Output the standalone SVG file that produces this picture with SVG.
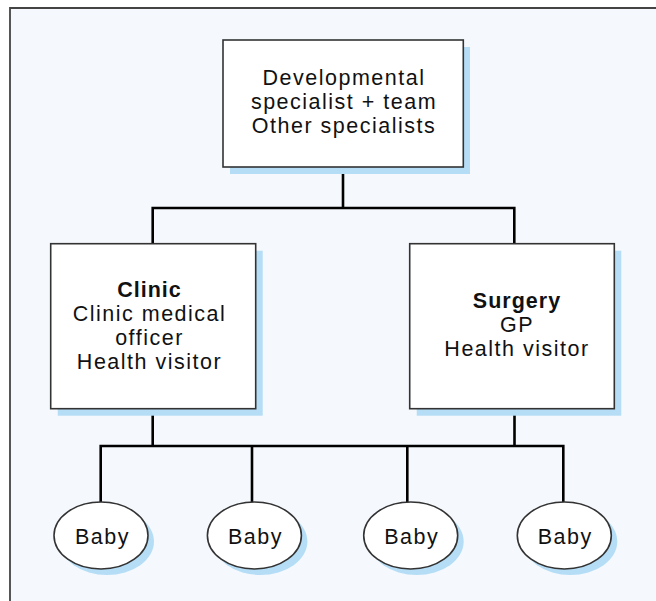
<svg xmlns="http://www.w3.org/2000/svg" width="656" height="601" viewBox="0 0 656 601">
<style>
.box{fill:#ffffff;stroke:#333333;stroke-width:1.6}
.shadow{fill:#b6ddf6}
.conn{fill:none;stroke:#000000;stroke-width:2.6}
text{font-family:"Liberation Sans",Arial,sans-serif;font-size:21.5px;fill:#111111;text-anchor:middle;letter-spacing:1.5px}
.b{font-weight:bold;letter-spacing:1px}
</style>
<rect x="0" y="0" width="656" height="601" fill="#ffffff"/>
<rect x="10" y="8" width="646" height="593" fill="#f5f9fd"/>
<path d="M10,601 V8 H656" fill="none" stroke="#444444" stroke-width="1.8"/>
<g id="connectors">
<path class="conn" d="M343,167 V208 M152.7,243.7 V208 H514.3 V243.7"/>
<path class="conn" d="M152.7,408.7 V446 M514.5,408.7 V446 M100.7,502 V446 H563.3 V502 M252,446 V502 M407.3,446 V502"/>
</g>
<g id="top">
<rect class="shadow" x="230" y="47" width="240" height="127"/>
<rect class="box" x="223" y="40" width="240.3" height="127"/>
<text x="344" y="85">Developmental</text>
<text x="344" y="109">specialist + team</text>
<text x="344" y="133">Other specialists</text>
</g>
<g id="clinic">
<rect class="shadow" x="57.7" y="250.7" width="205" height="165"/>
<rect class="box" x="50.7" y="243.7" width="205" height="165"/>
<text class="b" x="149.5" y="296.7">Clinic</text>
<text x="149.5" y="320.7">Clinic medical</text>
<text x="149.5" y="345">officer</text>
<text x="149.5" y="368.5">Health visitor</text>
</g>
<g id="surgery">
<rect class="shadow" x="416.7" y="250.7" width="204.6" height="165"/>
<rect class="box" x="409.7" y="243.7" width="204.6" height="165"/>
<text class="b" x="517" y="308.3">Surgery</text>
<text x="517" y="332">GP</text>
<text x="517" y="356">Health visitor</text>
</g>
<g id="baby1">
<ellipse class="shadow" cx="107" cy="541.5" rx="47" ry="33.5"/>
<ellipse class="box" cx="101" cy="535.5" rx="47" ry="33.5"/>
<text x="102.4" y="544">Baby</text>
</g>
<g id="baby2">
<ellipse class="shadow" cx="260.4" cy="541.5" rx="47" ry="33.5"/>
<ellipse class="box" cx="254.4" cy="535.5" rx="47" ry="33.5"/>
<text x="255.5" y="544">Baby</text>
</g>
<g id="baby3">
<ellipse class="shadow" cx="416.7" cy="541.5" rx="47" ry="33.5"/>
<ellipse class="box" cx="410.7" cy="535.5" rx="47" ry="33.5"/>
<text x="411.7" y="544">Baby</text>
</g>
<g id="baby4">
<ellipse class="shadow" cx="570.3" cy="541.5" rx="47" ry="33.5"/>
<ellipse class="box" cx="564.3" cy="535.5" rx="47" ry="33.5"/>
<text x="565.3" y="544">Baby</text>
</g>
</svg>
